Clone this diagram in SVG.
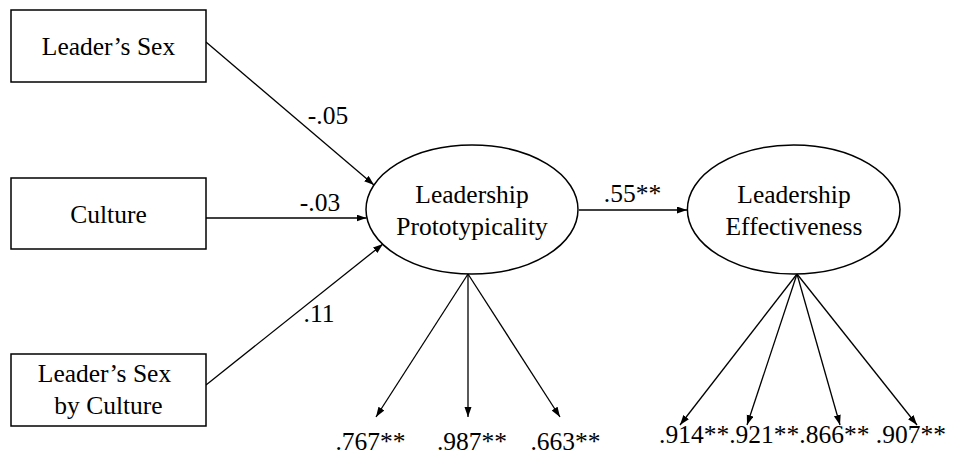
<svg xmlns="http://www.w3.org/2000/svg" width="972" height="465" viewBox="0 0 972 465">
<defs>
<marker id="ah" markerUnits="userSpaceOnUse" markerWidth="11" markerHeight="8" refX="10" refY="3.5" orient="auto">
<path d="M0,0 L10,3.5 L0,7 z" fill="#000"/>
</marker>
<style>
.box{fill:#fff;stroke:#000;stroke-width:1.5}
.lat{fill:#fff;stroke:#000;stroke-width:1.5}
.t{font-family:'Liberation Serif','Times New Roman',serif;font-size:25.5px;fill:#000;text-anchor:middle}
.c line{stroke:#000;stroke-width:1.3;marker-end:url(#ah)}
</style>
</defs>
<rect width="972" height="465" fill="#fff"/>
<g class="c" id="connectors">
<line x1="206" y1="42" x2="374" y2="185"/>
<line x1="206" y1="218" x2="366.5" y2="218"/>
<line x1="206" y1="385" x2="383" y2="244"/>
<line x1="579" y1="210" x2="687" y2="210"/>
<line x1="468" y1="274" x2="376" y2="417"/>
<line x1="468" y1="274" x2="468" y2="417"/>
<line x1="468" y1="274" x2="560" y2="417"/>
<line x1="797" y1="274" x2="680" y2="425"/>
<line x1="797" y1="274" x2="747" y2="425"/>
<line x1="797" y1="274" x2="840" y2="425"/>
<line x1="797" y1="274" x2="917" y2="425"/>
</g>
<g id="n-sex">
<rect class="box" x="11" y="10" width="195" height="72"/>
<text class="t" x="108.5" y="55">Leader’s Sex</text>
</g>
<g id="n-culture">
<rect class="box" x="11" y="178" width="195" height="71"/>
<text class="t" x="108.5" y="223">Culture</text>
</g>
<g id="n-sexculture">
<rect class="box" x="11" y="354" width="195" height="72"/>
<text class="t" x="104.5" y="382">Leader’s Sex</text>
<text class="t" x="108.5" y="414">by Culture</text>
</g>
<g id="n-proto">
<ellipse class="lat" cx="472" cy="209.5" rx="106" ry="64.5"/>
<text class="t" x="472" y="203">Leadership</text>
<text class="t" x="472" y="235">Prototypicality</text>
</g>
<g id="n-eff">
<ellipse class="lat" cx="793.7" cy="209.5" rx="106.3" ry="64.5"/>
<text class="t" x="794" y="203">Leadership</text>
<text class="t" x="794" y="235">Effectiveness</text>
</g>
<g id="labels">
<text class="t" x="328" y="124">-.05</text>
<text class="t" x="320" y="211">-.03</text>
<text class="t" x="319" y="322">.11</text>
<text class="t" x="632.5" y="202">.55**</text>
<text class="t" x="370.5" y="450">.767**</text>
<text class="t" x="472" y="450">.987**</text>
<text class="t" x="565.5" y="450">.663**</text>
<text class="t" x="802.5" y="443">.914**.921**.866** .907**</text>
</g>
</svg>
